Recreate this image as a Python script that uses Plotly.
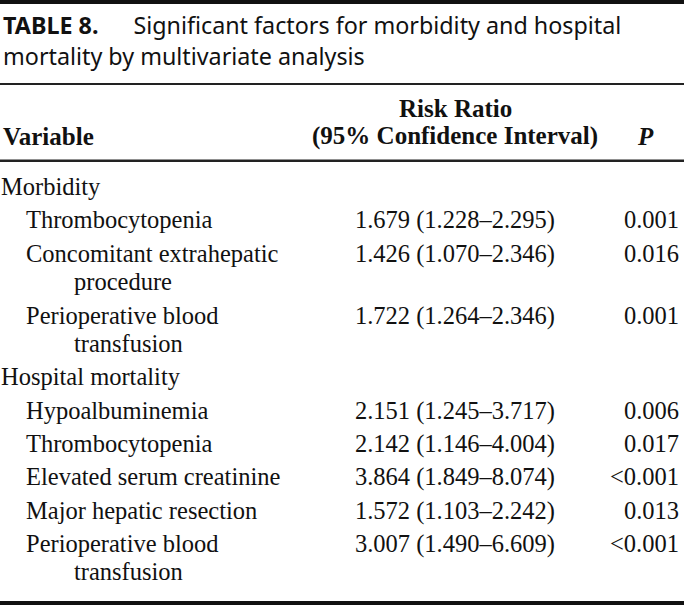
import plotly.graph_objects as go

# ---------------- data ----------------
title_bold = "TABLE 8."
title_lines = ["Significant factors for morbidity and hospital",
               "mortality by multivariate analysis"]
header_variable = "Variable"
header_rr = ["Risk Ratio", "(95% Confidence Interval)"]
header_p = "P"

groups = ["Morbidity", "Hospital mortality"]
group_of = [0, 0, 0, 1, 1, 1, 1, 1]
variables = [
    ["Thrombocytopenia"],
    ["Concomitant extrahepatic", "procedure"],
    ["Perioperative blood", "transfusion"],
    ["Hypoalbuminemia"],
    ["Thrombocytopenia"],
    ["Elevated serum creatinine"],
    ["Major hepatic resection"],
    ["Perioperative blood", "transfusion"],
]
risk_ratio = ["1.679", "1.426", "1.722", "2.151", "2.142", "3.864", "1.572", "3.007"]
ci_low = ["1.228", "1.070", "1.264", "1.245", "1.146", "1.849", "1.103", "1.490"]
ci_high = ["2.295", "2.346", "2.346", "3.717", "4.004", "8.074", "2.242", "6.609"]
p_values = ["0.001", "0.016", "0.001", "0.006", "0.017", "<0.001", "0.013", "<0.001"]

# ---------------- layout constants ----------------
W, H = 684, 605
FIRST_ROW = 189
ROW_STEP = 33.3
WRAP_STEP = 28.5
X_GROUP, X_ITEM, X_WRAP = 1, 26, 74
X_CI, X_P = 455, 679
SERIF = "Liberation Serif"
SANS = "Noto Sans"
FS = 24.5

# compute row positions from data
gx, gy, gt = [], [], []
vx, vy, vt = [], [], []
cx, cy, ct = [], [], []
px, py, pt = [], [], []
y = FIRST_ROW
last_group = None
for i, lines in enumerate(variables):
    g = group_of[i]
    if g != last_group:
        gx.append(X_GROUP); gy.append(y); gt.append(groups[g])
        y += ROW_STEP
        last_group = g
    for k, ln in enumerate(lines):
        vx.append(X_ITEM if k == 0 else X_WRAP)
        vy.append(y + k * WRAP_STEP)
        vt.append(ln)
    cx.append(X_CI); cy.append(y)
    ct.append(f"{risk_ratio[i]} ({ci_low[i]}\u2013{ci_high[i]})")
    px.append(X_P); py.append(y)
    pt.append(p_values[i].replace("<", "&lt;"))
    y += ROW_STEP + WRAP_STEP * (len(lines) - 1)

font = dict(family=SERIF, size=FS, color="#111")
fig = go.Figure()
for xs, ys, ts, pos in [(gx, gy, gt, "middle right"), (vx, vy, vt, "middle right"),
                        (cx, cy, ct, "middle center"), (px, py, pt, "middle left")]:
    fig.add_trace(go.Scatter(x=xs, y=ys, text=ts, mode="text", textposition=pos,
                             textfont=font, hoverinfo="skip", cliponaxis=False))

ann = []
tfont = dict(family=SANS, size=23.3, color="#111")
ann.append(dict(x=1, y=25, xref="x", yref="y", xanchor="left", yanchor="middle",
                text=f"<b>{title_bold}</b>\u2003\u2002{title_lines[0]}", showarrow=False,
                font=tfont))
ann.append(dict(x=1, y=56, xref="x", yref="y", xanchor="left", yanchor="middle",
                text=title_lines[1], showarrow=False, font=tfont))
# headers
hfont = dict(family=SERIF, size=25, color="#111")
ann.append(dict(x=1, y=136, xref="x", yref="y", xanchor="left", yanchor="middle",
                text=f"<b>{header_variable}</b>", showarrow=False, font=hfont))
ann.append(dict(x=X_CI, y=108, xref="x", yref="y", xanchor="center", yanchor="middle",
                text=f"<b>{header_rr[0]}</b>", showarrow=False, font=hfont))
ann.append(dict(x=X_CI, y=136, xref="x", yref="y", xanchor="center", yanchor="middle",
                text=f"<b>{header_rr[1]}</b>", showarrow=False, font=hfont))
ann.append(dict(x=645, y=136, xref="x", yref="y", xanchor="center", yanchor="middle",
                text=f"<b><i>{header_p}</i></b>", showarrow=False, font=hfont))

shapes = [
    dict(type="rect", x0=0, x1=W, y0=0, y1=4, fillcolor="#111", line_width=0),
    dict(type="rect", x0=0, x1=W, y0=83, y1=85, fillcolor="#222", line_width=0),
    dict(type="rect", x0=0, x1=W, y0=159.5, y1=162, fillcolor="#222", line_width=0),
    dict(type="rect", x0=0, x1=W, y0=601, y1=605, fillcolor="#111", line_width=0),
]

fig.update_layout(
    width=W, height=H, margin=dict(l=0, r=0, t=0, b=0),
    paper_bgcolor="white", plot_bgcolor="white", showlegend=False,
    xaxis=dict(range=[0, W], visible=False, fixedrange=True),
    yaxis=dict(range=[H, 0], visible=False, fixedrange=True),
    annotations=ann, shapes=shapes,
)
fig.write_html("out.html", config={"displayModeBar": False},
               post_script="document.body.style.margin='0';document.body.style.overflow='hidden';")
